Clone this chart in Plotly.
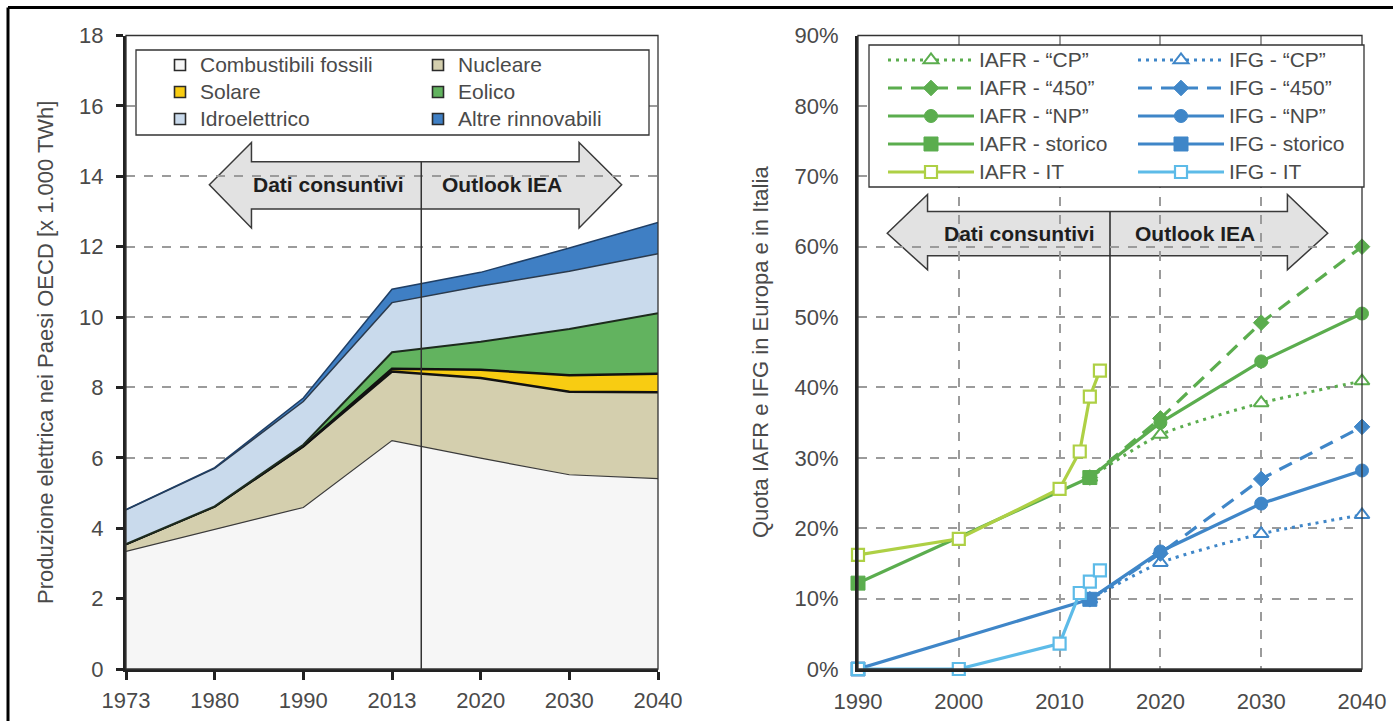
import plotly.graph_objects as go

# ---------------- Left chart: electricity production OECD (x 1000 TWh) ----------------
anni_sx = ["1973", "1980", "1990", "2013", "2020", "2030", "2040"]
fossili = [3.34, 3.96, 4.59, 6.49, 5.99, 5.52, 5.41]
nucleare = [0.21, 0.66, 1.74, 1.96, 2.28, 2.36, 2.45]
solare = [0.0, 0.0, 0.0, 0.08, 0.23, 0.47, 0.53]
eolico = [0.0, 0.0, 0.04, 0.47, 0.80, 1.31, 1.72]
idro = [0.97, 1.08, 1.23, 1.41, 1.58, 1.64, 1.69]
altre = [0.01, 0.02, 0.10, 0.38, 0.39, 0.66, 0.89]

nomi_sx = ["Combustibili fossili", "Nucleare", "Solare", "Eolico",
           "Idroelettrico", "Altre rinnovabili"]
yticks_sx = [0, 2, 4, 6, 8, 10, 12, 14, 16, 18]

# ---------------- Right chart: shares IAFR / IFG (%) ----------------
anni_storico = [1990, 2013]
iafr_storico = [12.2, 27.2]
ifg_storico = [0.0, 9.9]

anni_it = [1990, 2000, 2010, 2012, 2013, 2014]
iafr_it = [16.2, 18.5, 25.6, 30.9, 38.7, 42.4]
ifg_it = [0.0, 0.0, 3.6, 10.8, 12.4, 14.0]

anni_scen = [2013, 2020, 2030, 2040]
iafr_cp = [27.2, 33.3, 37.8, 40.9]
iafr_450 = [27.2, 35.6, 49.2, 60.0]
iafr_np = [27.2, 35.0, 43.7, 50.5]
ifg_cp = [9.9, 15.1, 19.2, 21.9]
ifg_450 = [9.9, 16.4, 27.0, 34.4]
ifg_np = [9.9, 16.7, 23.5, 28.2]

xticks_dx = [1990, 2000, 2010, 2020, 2030, 2040]
yticks_dx = [0, 10, 20, 30, 40, 50, 60, 70, 80, 90]
yticks_dx_lab = ["0%", "10%", "20%", "30%", "40%", "50%", "60%", "70%", "80%", "90%"]

# ---------------- styles ----------------
FONT = "Liberation Sans, Arial, Helvetica, sans-serif"
TXT = "#4a4a4a"
FS = 22

col_sx = ["#F6F6F6", "#D4CFAE", "#F8CC12", "#62B35F", "#C9DAEC", "#3F7FC4"]
line_sx = [("#3a3a3a", 1.2), ("#111111", 2.5), ("#111111", 2.5),
           ("#1d2b1d", 2.0), ("#2b3a4c", 1.5), ("#1f3f66", 1.5)]

G = "#5BAD4E"
GIT = "#AED045"
B = "#3F86C8"
BIT = "#5DBBE8"


def lname(s, size=21):
    return '<span style="font-size:%dpx">%s</span>' % (size, s)


fig = go.Figure()

# stacked areas
serie_sx = [fossili, nucleare, solare, eolico, idro, altre]
for nome, vals, fc, (lc, lw) in zip(nomi_sx, serie_sx, col_sx, line_sx):
    fig.add_trace(go.Scatter(
        x=anni_sx, y=vals, name=nome, stackgroup="one", mode="lines",
        fillcolor=fc, line=dict(color=lc, width=lw, shape="linear"),
        showlegend=False, xaxis="x", yaxis="y"))

# legend entries for areas (two columns)
leg_assign = ["legend", "legend2", "legend", "legend2", "legend", "legend2"]
for nome, fc, lg in zip(nomi_sx, col_sx, leg_assign):
    fig.add_trace(go.Scatter(
        x=[None], y=[None], mode="markers", name=lname(nome), legend=lg,
        marker=dict(symbol="square", size=11, color=fc,
                    line=dict(color="#2a2a2a", width=1.6)),
        xaxis="x", yaxis="y", showlegend=True))


def add_group(prefix, color, itcolor, storico, it, cp, q450, np_, leg):
    fig.add_trace(go.Scatter(
        x=anni_scen, y=cp, name=lname(prefix + " - \u201cCP\u201d"), legend=leg,
        mode="lines+markers",
        line=dict(color=color, width=3, dash="3px,5px", shape="spline", smoothing=0.6),
        marker=dict(symbol="triangle-up", size=13, color="white",
                    line=dict(color=color, width=2)),
        cliponaxis=False, xaxis="x2", yaxis="y2"))
    fig.add_trace(go.Scatter(
        x=anni_scen, y=q450, name=lname(prefix + " - \u201c450\u201d"), legend=leg,
        mode="lines+markers", line=dict(color=color, width=3.2, dash="14px,9px"),
        marker=dict(symbol="diamond", size=12, color=color,
                    line=dict(color=color, width=1)),
        cliponaxis=False, xaxis="x2", yaxis="y2"))
    fig.add_trace(go.Scatter(
        x=anni_scen, y=np_, name=lname(prefix + " - \u201cNP\u201d"), legend=leg,
        mode="lines+markers", line=dict(color=color, width=3.2),
        marker=dict(symbol="circle", size=13, color=color,
                    line=dict(color=color, width=1)),
        cliponaxis=False, xaxis="x2", yaxis="y2"))
    fig.add_trace(go.Scatter(
        x=anni_storico, y=storico, name=lname(prefix + " - storico"), legend=leg,
        mode="lines+markers", line=dict(color=color, width=3.2),
        marker=dict(symbol="square", size=14, color=color,
                    line=dict(color=color, width=1)),
        cliponaxis=False, xaxis="x2", yaxis="y2"))
    fig.add_trace(go.Scatter(
        x=anni_it, y=it, name=lname(prefix + " - IT"), legend=leg,
        mode="lines+markers", line=dict(color=itcolor, width=3.2),
        marker=dict(symbol="square", size=12, color="white",
                    line=dict(color=itcolor, width=2.2)),
        cliponaxis=False, xaxis="x2", yaxis="y2"))


add_group("IFG", B, BIT, ifg_storico, ifg_it, ifg_cp, ifg_450, ifg_np, "legend4")
add_group("IAFR", G, GIT, iafr_storico, iafr_it, iafr_cp, iafr_450, iafr_np, "legend3")

# ---------------- layout ----------------
W, H = 1393, 721
ydom = [(H - 669) / H, (H - 35.5) / H]
xdom1 = [126 / W, 658 / W]
xdom2 = [858 / W, 1362 / W]


def px(x):
    return x / W


def py(y):
    return 1 - y / H


axis_common = dict(showline=True, linewidth=3, linecolor="#222222", zeroline=False,
                   automargin=False,
                   tickfont=dict(size=FS, color=TXT, family=FONT))

fig.update_layout(
    template="none",
    width=W, height=H, autosize=False,
    margin=dict(l=0, r=0, t=0, b=0, pad=0),
    paper_bgcolor="white", plot_bgcolor="white",
    font=dict(family=FONT, color=TXT, size=FS),
    hovermode=False,
    xaxis=dict(domain=xdom1, anchor="y", type="category", range=[0, 6],
               ticks="outside", ticklen=8, tickwidth=3, tickcolor="#222222",
               showgrid=False, ticklabelstandoff=2, **axis_common),
    yaxis=dict(domain=ydom, anchor="x", range=[0, 18], tickvals=yticks_sx,
               ticks="outside", ticklen=7, tickwidth=3, tickcolor="#222222",
               showgrid=True, gridcolor="#9b9b9b", gridwidth=1.5, griddash="dash",
               ticklabelstandoff=8,
               title=dict(text="Produzione elettrica nei Paesi OECD [x 1.000 TWh]",
                          font=dict(size=FS, color=TXT), standoff=20),
               **axis_common),
    xaxis2=dict(domain=xdom2, anchor="y2", range=[1990, 2040], tickvals=xticks_dx,
                ticks="", showgrid=True, gridcolor="#9b9b9b", gridwidth=1.5,
                griddash="dash", ticklabelstandoff=11, **axis_common),
    yaxis2=dict(domain=ydom, anchor="x2", range=[0, 90], tickvals=yticks_dx,
                ticktext=yticks_dx_lab, ticks="", showgrid=True, gridcolor="#9b9b9b",
                gridwidth=1.5, griddash="dash", ticklabelstandoff=12,
                title=dict(text="Quota IAFR e IFG in Europa e in Italia",
                           font=dict(size=FS, color=TXT), standoff=20),
                **axis_common),
)

leg_common = dict(orientation="v", xanchor="left", yanchor="top", traceorder="normal",
                  bgcolor="rgba(0,0,0,0)", borderwidth=0, tracegroupgap=0,
                  itemclick=False, itemdoubleclick=False)
fig.update_layout(
    legend=dict(x=px(160), y=py(46.5), font=dict(size=18.46, color=TXT, family=FONT), **leg_common),
    legend2=dict(x=px(418), y=py(46.5), font=dict(size=18.46, color=TXT, family=FONT), **leg_common),
    legend3=dict(x=px(883), y=py(41), itemwidth=86, font=dict(size=19.23, color=TXT, family=FONT), **leg_common),
    legend4=dict(x=px(1133), y=py(41), itemwidth=86, font=dict(size=19.23, color=TXT, family=FONT), **leg_common),
)

shapes = []
# thin frame top/right of both plots
for xr, yr in (("x domain", "y domain"), ("x2 domain", "y2 domain")):
    shapes.append(dict(type="rect", xref=xr, yref=yr, x0=0, x1=1, y0=0, y1=1,
                       line=dict(color="#333333", width=1.3), fillcolor="rgba(0,0,0,0)",
                       layer="above"))

# arrows
ARROW_FILL = "#e2e2e2"
ARROW_LINE = "#3a3a3a"
# left (x in domain fraction, y in data)
tl, bl, br, tr = 0.94 / 6, 1.415 / 6, 5.11 / 6, 5.59 / 6
ym, ht, hb, bt, bb = 13.76, 14.96, 12.53, 14.41, 13.07
path_l = (f"M{tl},{ym} L{bl},{ht} L{bl},{bt} L{br},{bt} L{br},{ht} L{tr},{ym} "
          f"L{br},{hb} L{br},{bb} L{bl},{bb} L{bl},{hb} Z")
shapes.append(dict(type="path", xref="x domain", yref="y", path=path_l,
                   fillcolor=ARROW_FILL, line=dict(color=ARROW_LINE, width=1.5), layer="below"))
shapes.append(dict(type="line", xref="x domain", yref="y", x0=3.33 / 6, x1=3.33 / 6, y0=0, y1=bt,
                   line=dict(color="#333333", width=1.5), layer="above"))
# right (data coords)
tl, bl, br, tr = 1992.9, 1996.9, 2032.6, 2036.6
ym, ht, hb, bt, bb = 61.9, 67.4, 56.7, 65.0, 58.7
path_r = (f"M{tl},{ym} L{bl},{ht} L{bl},{bt} L{br},{bt} L{br},{ht} L{tr},{ym} "
          f"L{br},{hb} L{br},{bb} L{bl},{bb} L{bl},{hb} Z")
shapes.append(dict(type="path", xref="x2", yref="y2", path=path_r,
                   fillcolor=ARROW_FILL, line=dict(color=ARROW_LINE, width=1.5), layer="below"))
shapes.append(dict(type="line", xref="x2", yref="y2", x0=2015, x1=2015, y0=0, y1=bt,
                   line=dict(color="#333333", width=1.6), layer="below"))

# legend boxes
shapes.append(dict(type="rect", xref="paper", yref="paper", x0=px(136), x1=px(649),
                   y0=py(135), y1=py(50), fillcolor="white",
                   line=dict(color="#333333", width=1.3), layer="above"))
shapes.append(dict(type="rect", xref="paper", yref="paper", x0=px(869), x1=px(1364),
                   y0=py(187), y1=py(45), fillcolor="white",
                   line=dict(color="#333333", width=1.3), layer="above"))

# outer frame (top and left)
shapes.append(dict(type="line", xref="paper", yref="paper", x0=px(8), x1=1, y0=py(7.5), y1=py(7.5),
                   line=dict(color="#000000", width=3)))
shapes.append(dict(type="line", xref="paper", yref="paper", x0=px(8), x1=px(8), y0=0, y1=py(7.5),
                   line=dict(color="#000000", width=3)))

fig.update_layout(shapes=shapes)

ann_font = dict(family=FONT, size=21, color="#1e1e1e", weight="bold")
fig.update_layout(annotations=[
    dict(xref="x domain", yref="y", x=2.28 / 6, y=13.76, text="Dati consuntivi",
         showarrow=False, font=ann_font, xanchor="center", yanchor="middle"),
    dict(xref="x domain", yref="y", x=4.235 / 6, y=13.76, text="Outlook IEA",
         showarrow=False, font=ann_font, xanchor="center", yanchor="middle"),
    dict(xref="x2", yref="y2", x=2006.0, y=61.9, text="Dati consuntivi",
         showarrow=False, font=ann_font, xanchor="center", yanchor="middle"),
    dict(xref="x2", yref="y2", x=2023.4, y=61.9, text="Outlook IEA",
         showarrow=False, font=ann_font, xanchor="center", yanchor="middle"),
])

fig.write_html("out.html", config={"displayModeBar": False},
               post_script="document.body.style.margin='0';document.body.style.overflow='hidden';")
